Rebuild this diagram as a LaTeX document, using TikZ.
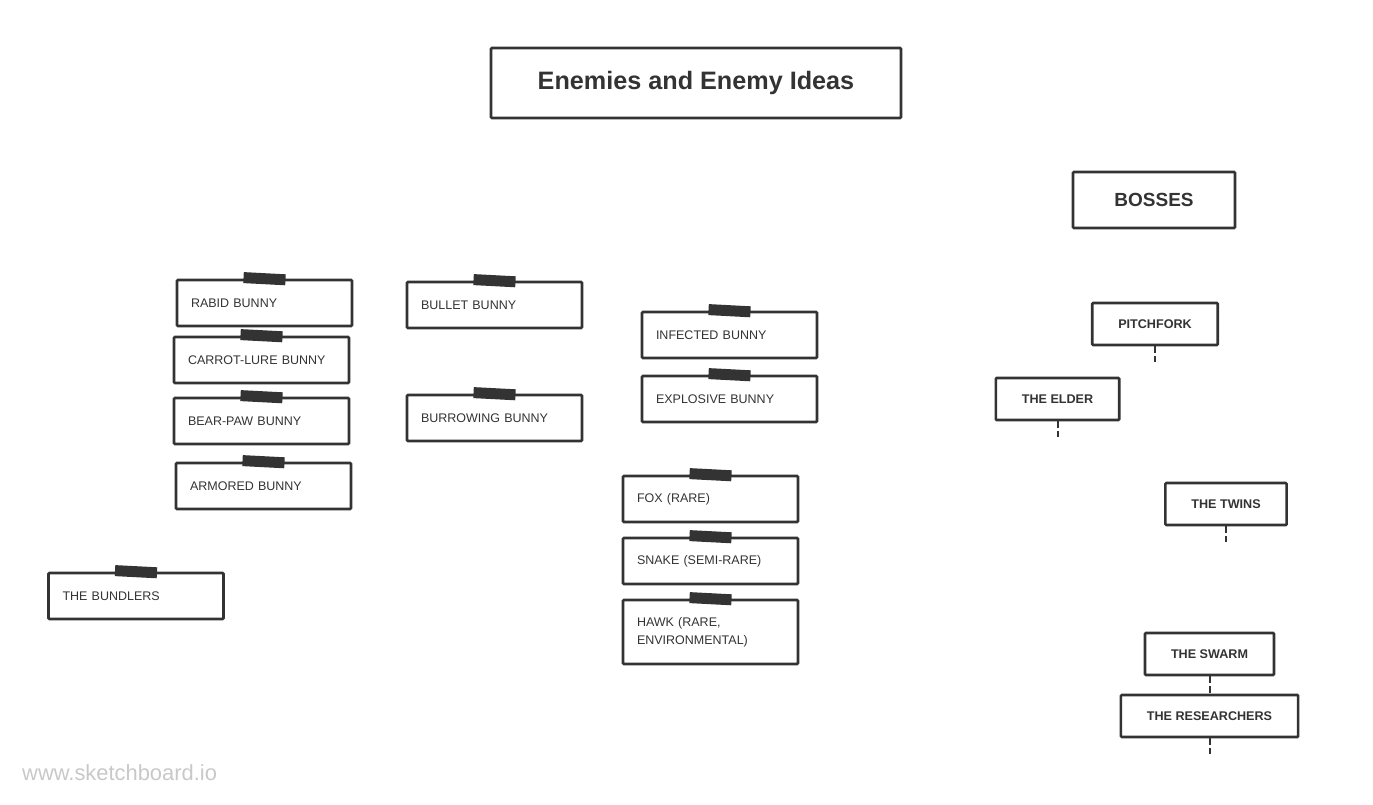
\documentclass[tikz,border=0pt]{standalone}
\usepackage{fontspec}
\setmainfont{Liberation Sans}
\definecolor{ink}{HTML}{333333}
\definecolor{mark}{HTML}{C8C8C8}
\newcommand{\itemfont}{\fontsize{12.5}{18}\selectfont}
\newcommand{\bossfont}{\fontsize{12.6}{16}\selectfont\bfseries}
\newcommand{\headfont}{\fontsize{25.2}{29}\selectfont\bfseries}

\begin{document}
\begin{tikzpicture}[x=1pt,y=-1pt,
	box/.style = {draw = ink, line width = 2.6pt, text = ink, rounded corners = 1pt},
	enemy/.style = {box, minimum width = 175pt, minimum height = 46pt, text width = 147pt, inner xsep = 14pt, align = left, font = \itemfont},
	boss/.style = {box, minimum height = 42pt, inner xsep = 26pt, font = \bossfont},
	tape/.style = {fill = ink, minimum width = 42pt, minimum height = 11pt, inner sep = 0pt, rotate = -3},
	stub/.style = {draw = ink, line width = 2pt, dash pattern = on 7pt off 3pt}]
	\useasboundingbox (0,0) rectangle (1373,805);
	\node[box, minimum width = 410pt, minimum height = 70pt, font = \headfont] (title) at (696,83) {Enemies and Enemy Ideas};
	\node[box, minimum width = 162pt, minimum height = 56pt, font = \fontsize{19}{22}\selectfont\bfseries] (bosses) at (1154,200) {BOSSES};
	\node[enemy] (rabid) at (264.5,303) {RABID BUNNY};
	\node[enemy] (carrot) at (261.5,360) {CARROT-LURE BUNNY};
	\node[enemy] (bearpaw) at (261.5,421) {BEAR-PAW BUNNY};
	\node[enemy] (armored) at (263.5,486) {ARMORED BUNNY};
	\node[enemy] (bundlers) at (136,596) {THE BUNDLERS};
	\node[enemy] (bullet) at (494.5,305) {BULLET BUNNY};
	\node[enemy] (burrowing) at (494.5,418) {BURROWING BUNNY};
	\node[enemy] (infected) at (729.5,335) {INFECTED BUNNY};
	\node[enemy] (explosive) at (729.5,399) {EXPLOSIVE BUNNY};
	\node[enemy] (fox) at (710.5,499) {FOX (RARE)};
	\node[enemy] (snake) at (710.5,561) {SNAKE (SEMI-RARE)};
	\node[enemy, minimum height = 64pt] (hawk) at (710.5,632) {HAWK (RARE,\\ENVIRONMENTAL)};
	\foreach \n in {rabid,carrot,bearpaw,armored,bundlers,bullet,burrowing,infected,explosive,fox,snake,hawk}
		\node[tape] (\n-tape) at (\n.north) {};
	\node[boss] (pitchfork) at (1155,324) {PITCHFORK};
	\node[boss] (elder) at (1057.5,399) {THE ELDER};
	\node[boss] (twins) at (1226,504) {THE TWINS};
	\node[boss] (swarm) at (1209.5,654) {THE SWARM};
	\node[boss] (researchers) at (1209.5,716) {THE RESEARCHERS};
	\coordinate (pitchfork-end) at (1155,362);
	\coordinate (elder-end) at (1057.5,437);
	\coordinate (twins-end) at (1226,542);
	\coordinate (researchers-end) at (1209.5,754);
	\draw[stub] (pitchfork.south) -- (pitchfork-end);
	\draw[stub] (elder.south) -- (elder-end);
	\draw[stub] (twins.south) -- (twins-end);
	\draw[stub] (swarm.south) -- (researchers.north);
	\draw[stub] (researchers.south) -- (researchers-end);
	\node[anchor = west, inner sep = 0pt, text = mark, font = \fontsize{21.9}{26}\selectfont] (site) at (22,773) {www.sketchboard.io};
\end{tikzpicture}
\end{document}
